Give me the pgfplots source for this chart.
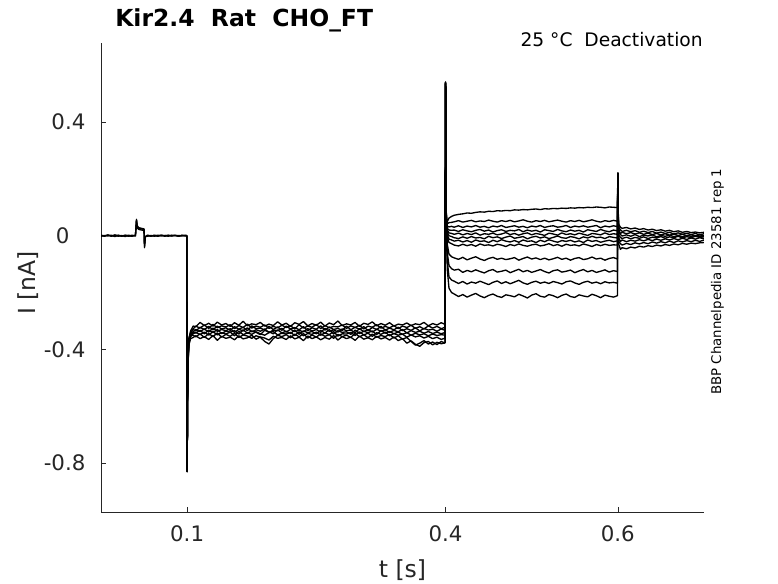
\documentclass[border=0pt]{standalone}
\usepackage{fontspec}
\setmainfont{DejaVu Sans}
\usepackage{pgfplots}
\usepackage{pgfplotstable}
\pgfplotsset{compat=1.18}
\definecolor{axgray}{HTML}{262626}

\pgfplotstableread{
t a b c
0 0.001 -0.002 0.002
0.004 -0.002 0.001 -0.001
0.008 0.002 -0.001 0.003
0.012 -0.001 0.002 -0.002
0.016 0.003 -0.003 0.001
0.020 -0.002 0.001 0.002
0.024 0.001 -0.002 -0.001
0.028 -0.003 0.002 0.001
0.032 0.002 0.000 -0.002
0.036 -0.001 -0.002 0.002
0.040 0.001 0.002 -0.001
0.0412 0.058 0.052 0.055
0.0420 0.032 0.028 0.035
0.0440 0.026 0.022 0.028
0.0470 0.024 0.020 0.026
0.0500 0.022 0.019 0.024
0.0505 -0.038 -0.030 -0.042
0.0515 -0.004 -0.002 -0.005
0.0540 0.001 -0.002 0.002
0.058 -0.002 0.001 -0.001
0.062 0.002 -0.002 0.001
0.066 -0.001 0.002 -0.002
0.070 0.002 -0.001 0.002
0.074 -0.002 0.001 0.000
0.078 0.001 -0.002 0.002
0.082 -0.001 0.002 -0.001
0.086 0.002 0.000 0.001
0.090 -0.002 0.001 -0.002
0.094 0.001 -0.001 0.002
0.098 -0.001 0.002 0.000
0.0995 0.000 0.001 -0.001
}\tabP

\pgfplotstableread{
t a b c d e f g h
0.0995 0.000 0.001 -0.001 0.002 -0.002 0.001 0.000 -0.001
0.1000 -0.830 -0.825 -0.828 -0.831 -0.822 -0.829 -0.826 -0.830
0.1005 -0.560 -0.570 -0.550 -0.580 -0.565 -0.575 -0.555 -0.585
0.1010 -0.430 -0.440 -0.425 -0.450 -0.435 -0.445 -0.438 -0.455
0.1020 -0.365 -0.372 -0.360 -0.380 -0.370 -0.378 -0.375 -0.385
0.1040 -0.335 -0.345 -0.340 -0.350 -0.348 -0.355 -0.352 -0.362
0.1070 -0.318 -0.328 -0.330 -0.338 -0.340 -0.345 -0.350 -0.358
0.1100 -0.320 -0.318 -0.335 -0.330 -0.342 -0.340 -0.356 -0.352
0.1150 -0.305 -0.325 -0.322 -0.337 -0.333 -0.348 -0.345 -0.362
0.1200 -0.316 -0.314 -0.330 -0.328 -0.345 -0.339 -0.358 -0.355
0.1250 -0.308 -0.326 -0.319 -0.339 -0.332 -0.350 -0.344 -0.365
0.1300 -0.318 -0.312 -0.331 -0.325 -0.341 -0.337 -0.355 -0.351
0.1350 -0.304 -0.324 -0.318 -0.336 -0.330 -0.349 -0.342 -0.368
0.1400 -0.314 -0.317 -0.328 -0.330 -0.344 -0.341 -0.357 -0.354
0.1450 -0.309 -0.321 -0.324 -0.334 -0.336 -0.346 -0.347 -0.361
0.1500 -0.319 -0.313 -0.333 -0.327 -0.339 -0.339 -0.354 -0.357
0.1550 -0.306 -0.327 -0.320 -0.340 -0.334 -0.352 -0.343 -0.366
0.1600 -0.315 -0.316 -0.329 -0.329 -0.346 -0.336 -0.358 -0.352
0.1650 -0.301 -0.323 -0.322 -0.335 -0.331 -0.348 -0.349 -0.363
0.1700 -0.317 -0.311 -0.334 -0.324 -0.343 -0.342 -0.353 -0.359
0.1750 -0.310 -0.325 -0.317 -0.338 -0.335 -0.347 -0.361 -0.350
0.1800 -0.313 -0.318 -0.327 -0.331 -0.340 -0.338 -0.352 -0.364
0.1850 -0.305 -0.322 -0.325 -0.336 -0.348 -0.345 -0.357 -0.356
0.1900 -0.318 -0.314 -0.332 -0.328 -0.333 -0.350 -0.372 -0.360
0.1950 -0.311 -0.326 -0.319 -0.341 -0.338 -0.341 -0.381 -0.367
0.2000 -0.316 -0.319 -0.330 -0.332 -0.345 -0.337 -0.362 -0.354
0.2050 -0.303 -0.324 -0.321 -0.334 -0.331 -0.349 -0.350 -0.361
0.2100 -0.314 -0.315 -0.333 -0.326 -0.342 -0.343 -0.355 -0.358
0.2150 -0.308 -0.323 -0.318 -0.339 -0.336 -0.346 -0.348 -0.365
0.2200 -0.319 -0.317 -0.328 -0.329 -0.344 -0.340 -0.359 -0.352
0.2250 -0.306 -0.328 -0.323 -0.337 -0.332 -0.351 -0.346 -0.363
0.2300 -0.312 -0.313 -0.331 -0.333 -0.347 -0.338 -0.356 -0.357
0.2350 -0.302 -0.325 -0.320 -0.338 -0.335 -0.352 -0.344 -0.369
0.2400 -0.317 -0.318 -0.334 -0.327 -0.341 -0.344 -0.360 -0.353
0.2450 -0.309 -0.322 -0.324 -0.335 -0.337 -0.347 -0.349 -0.362
0.2500 -0.315 -0.312 -0.329 -0.330 -0.345 -0.339 -0.357 -0.356
0.2550 -0.304 -0.327 -0.317 -0.340 -0.333 -0.350 -0.345 -0.366
0.2600 -0.318 -0.316 -0.332 -0.326 -0.343 -0.342 -0.354 -0.358
0.2650 -0.307 -0.324 -0.321 -0.336 -0.330 -0.348 -0.348 -0.364
0.2700 -0.313 -0.319 -0.330 -0.331 -0.346 -0.337 -0.361 -0.351
0.2750 -0.300 -0.321 -0.326 -0.339 -0.334 -0.353 -0.347 -0.367
0.2800 -0.316 -0.314 -0.333 -0.328 -0.340 -0.345 -0.355 -0.355
0.2850 -0.310 -0.326 -0.318 -0.334 -0.338 -0.346 -0.350 -0.362
0.2900 -0.314 -0.317 -0.331 -0.332 -0.347 -0.340 -0.358 -0.357
0.2950 -0.305 -0.323 -0.322 -0.341 -0.332 -0.351 -0.343 -0.368
0.3000 -0.319 -0.315 -0.329 -0.327 -0.344 -0.338 -0.356 -0.353
0.3050 -0.308 -0.328 -0.320 -0.337 -0.336 -0.349 -0.348 -0.364
0.3100 -0.312 -0.318 -0.334 -0.330 -0.341 -0.343 -0.359 -0.359
0.3150 -0.303 -0.322 -0.323 -0.339 -0.335 -0.354 -0.346 -0.366
0.3200 -0.317 -0.313 -0.330 -0.329 -0.348 -0.341 -0.357 -0.354
0.3250 -0.309 -0.325 -0.319 -0.336 -0.333 -0.347 -0.351 -0.363
0.3300 -0.315 -0.319 -0.332 -0.331 -0.343 -0.339 -0.355 -0.358
0.3350 -0.306 -0.324 -0.325 -0.340 -0.337 -0.352 -0.347 -0.367
0.3400 -0.318 -0.316 -0.331 -0.333 -0.345 -0.344 -0.360 -0.356
0.3450 -0.311 -0.327 -0.322 -0.338 -0.339 -0.350 -0.352 -0.369
0.3500 -0.314 -0.318 -0.334 -0.330 -0.347 -0.346 -0.364 -0.362
0.3550 -0.307 -0.323 -0.327 -0.342 -0.341 -0.357 -0.358 -0.378
0.3600 -0.316 -0.315 -0.333 -0.334 -0.350 -0.349 -0.372 -0.370
0.3650 -0.310 -0.326 -0.324 -0.340 -0.343 -0.356 -0.385 -0.382
0.3700 -0.313 -0.320 -0.335 -0.336 -0.349 -0.352 -0.378 -0.389
0.3750 -0.305 -0.328 -0.326 -0.343 -0.345 -0.360 -0.369 -0.376
0.3800 -0.317 -0.317 -0.332 -0.337 -0.352 -0.354 -0.381 -0.372
0.3850 -0.309 -0.325 -0.329 -0.344 -0.346 -0.362 -0.374 -0.384
0.3900 -0.314 -0.319 -0.336 -0.339 -0.351 -0.357 -0.383 -0.375
0.3950 -0.306 -0.327 -0.328 -0.345 -0.348 -0.365 -0.372 -0.380
0.3995 -0.312 -0.322 -0.333 -0.340 -0.350 -0.360 -0.378 -0.377
}\tabS

\pgfplotstableread{
t A B C D E F G H I J K L
0.3995 -0.310 -0.322 -0.333 -0.340 -0.350 -0.360 -0.378 -0.377 -0.345 -0.330 -0.365 -0.355
0.4000 0.540 0.538 0.536 0.541 0.535 0.539 0.537 0.534 0.540 0.536 0.538 0.535
0.4005 0.150 0.140 0.145 0.135 0.150 0.142 0.138 0.146 0.132 0.140 0.136 0.130
0.4010 0.060 0.055 0.050 0.048 0.052 0.045 0.047 0.042 0.040 0.038 0.035 0.030
0.4020 0.050 0.042 0.034 0.026 0.020 0.012 0.004 -0.004 -0.030 -0.060 -0.090 -0.120
0.4040 0.062 0.046 0.031 0.020 0.010 0.000 -0.012 -0.024 -0.065 -0.105 -0.145 -0.185
0.4070 0.068 0.047 0.033 0.019 0.008 -0.003 -0.015 -0.028 -0.074 -0.116 -0.156 -0.200
0.4100 0.072 0.049 0.030 0.020 0.005 -0.007 -0.019 -0.033 -0.078 -0.121 -0.160 -0.205
0.415 0.075 0.053 0.035 0.015 0.009 -0.010 -0.016 -0.036 -0.083 -0.118 -0.168 -0.214
0.420 0.077 0.048 0.029 0.021 0.003 -0.004 -0.022 -0.030 -0.076 -0.129 -0.161 -0.207
0.425 0.080 0.051 0.034 0.017 0.008 -0.009 -0.017 -0.035 -0.085 -0.122 -0.170 -0.216
0.430 0.079 0.054 0.031 0.014 0.004 -0.003 -0.023 -0.031 -0.079 -0.127 -0.163 -0.209
0.435 0.082 0.049 0.036 0.019 0.010 -0.008 -0.015 -0.037 -0.074 -0.120 -0.167 -0.203
0.440 0.084 0.052 0.030 0.022 0.002 -0.006 -0.020 -0.029 -0.082 -0.126 -0.160 -0.212
0.445 0.083 0.050 0.033 0.016 0.007 -0.011 -0.018 -0.034 -0.087 -0.131 -0.166 -0.218
0.450 0.086 0.055 0.028 0.020 0.005 -0.002 -0.024 -0.032 -0.080 -0.123 -0.172 -0.210
0.455 0.085 0.051 0.034 0.013 0.009 -0.007 -0.016 -0.036 -0.076 -0.119 -0.164 -0.205
0.460 0.088 0.048 0.031 0.018 0.003 -0.004 -0.021 -0.030 -0.083 -0.128 -0.159 -0.213
0.465 0.087 0.053 0.036 0.021 0.006 -0.010 -0.014 -0.033 -0.079 -0.125 -0.168 -0.217
0.470 0.089 0.050 0.029 0.015 0.011 -0.005 -0.019 -0.038 -0.084 -0.121 -0.162 -0.208
0.475 0.088 0.054 0.032 0.019 0.004 -0.001 -0.022 -0.031 -0.081 -0.130 -0.169 -0.211
0.480 0.091 0.049 0.035 0.017 0.008 -0.009 -0.017 -0.035 -0.077 -0.124 -0.163 -0.215
0.485 0.090 0.052 0.030 0.022 0.002 -0.006 -0.023 -0.029 -0.086 -0.118 -0.157 -0.206
0.490 0.092 0.056 0.033 0.014 0.007 -0.003 -0.015 -0.034 -0.080 -0.127 -0.166 -0.212
0.495 0.091 0.051 0.028 0.020 0.010 -0.011 -0.020 -0.037 -0.075 -0.122 -0.171 -0.219
0.500 0.093 0.048 0.034 0.016 0.003 -0.005 -0.018 -0.032 -0.082 -0.129 -0.164 -0.209
0.505 0.094 0.053 0.031 0.019 0.008 -0.002 -0.024 -0.030 -0.078 -0.124 -0.160 -0.204
0.510 0.092 0.050 0.036 0.013 0.005 -0.008 -0.016 -0.036 -0.084 -0.119 -0.167 -0.213
0.515 0.095 0.054 0.029 0.021 0.001 -0.004 -0.021 -0.033 -0.079 -0.126 -0.163 -0.216
0.520 0.094 0.049 0.033 0.018 0.009 -0.010 -0.014 -0.028 -0.085 -0.131 -0.168 -0.207
0.525 0.096 0.052 0.035 0.015 0.006 -0.006 -0.019 -0.035 -0.081 -0.123 -0.161 -0.211
0.530 0.095 0.055 0.030 0.022 0.002 -0.001 -0.023 -0.031 -0.076 -0.120 -0.165 -0.218
0.535 0.097 0.051 0.032 0.017 0.010 -0.007 -0.017 -0.037 -0.083 -0.128 -0.170 -0.210
0.540 0.096 0.048 0.036 0.014 0.004 -0.009 -0.020 -0.030 -0.079 -0.125 -0.162 -0.205
0.545 0.098 0.053 0.029 0.020 0.007 -0.003 -0.016 -0.034 -0.086 -0.121 -0.159 -0.214
0.550 0.097 0.050 0.034 0.016 0.003 -0.006 -0.022 -0.032 -0.080 -0.130 -0.166 -0.217
0.555 0.099 0.054 0.031 0.019 0.009 -0.011 -0.018 -0.036 -0.077 -0.124 -0.171 -0.208
0.560 0.098 0.049 0.035 0.013 0.005 -0.004 -0.024 -0.029 -0.084 -0.119 -0.164 -0.212
0.565 0.100 0.052 0.030 0.021 0.001 -0.008 -0.015 -0.033 -0.081 -0.127 -0.160 -0.215
0.570 0.099 0.056 0.033 0.018 0.008 -0.002 -0.020 -0.038 -0.075 -0.122 -0.167 -0.206
0.575 0.101 0.051 0.036 0.015 0.006 -0.007 -0.017 -0.031 -0.082 -0.129 -0.163 -0.211
0.580 0.100 0.048 0.028 0.022 0.003 -0.005 -0.023 -0.035 -0.079 -0.125 -0.169 -0.218
0.585 0.098 0.053 0.034 0.017 0.010 -0.010 -0.019 -0.030 -0.086 -0.120 -0.162 -0.209
0.590 0.101 0.050 0.031 0.014 0.004 -0.003 -0.016 -0.034 -0.080 -0.128 -0.166 -0.213
0.595 0.100 0.054 0.035 0.020 0.007 -0.006 -0.021 -0.032 -0.077 -0.123 -0.164 -0.216
0.5995 0.099 0.051 0.032 0.017 0.005 -0.008 -0.018 -0.033 -0.082 -0.126 -0.167 -0.211
0.6000 0.220 0.218 0.221 0.219 0.217 0.220 0.222 0.218 0.216 0.219 0.221 0.217
}\tabT

\pgfplotstableread{
t a b c d e f g h
0.6000 0.220 0.218 0.221 0.219 0.217 0.220 0.222 0.218
0.6005 0.080 0.070 0.065 0.060 0.050 0.045 0.035 0.030
0.6010 0.040 0.030 0.022 0.012 0.002 -0.008 -0.020 -0.030
0.6030 0.030 0.021 0.008 0.004 -0.006 -0.020 -0.028 -0.048
0.6050 0.026 0.015 0.012 -0.001 -0.010 -0.015 -0.033 -0.042
0.6100 0.029 0.019 0.007 0.003 -0.005 -0.021 -0.027 -0.046
0.6150 0.024 0.014 0.011 -0.002 -0.011 -0.016 -0.031 -0.040
0.6200 0.027 0.018 0.006 0.004 -0.006 -0.019 -0.025 -0.043
0.6250 0.022 0.012 0.010 -0.003 -0.009 -0.014 -0.029 -0.037
0.6300 0.025 0.016 0.005 0.002 -0.004 -0.018 -0.024 -0.040
0.6350 0.020 0.011 0.009 -0.001 -0.010 -0.013 -0.028 -0.035
0.6400 0.023 0.015 0.004 0.003 -0.005 -0.017 -0.022 -0.038
0.6450 0.018 0.009 0.008 -0.004 -0.008 -0.012 -0.026 -0.033
0.6500 0.021 0.013 0.003 0.001 -0.003 -0.016 -0.021 -0.036
0.6550 0.016 0.008 0.007 -0.002 -0.009 -0.011 -0.025 -0.031
0.6600 0.019 0.012 0.002 0.002 -0.004 -0.015 -0.019 -0.034
0.6650 0.014 0.006 0.006 -0.003 -0.007 -0.010 -0.024 -0.029
0.6700 0.017 0.010 0.001 0.000 -0.002 -0.014 -0.018 -0.032
0.6750 0.012 0.005 0.005 -0.004 -0.008 -0.009 -0.022 -0.027
0.6800 0.015 0.009 0.000 0.001 -0.003 -0.013 -0.017 -0.030
0.6850 0.011 0.004 0.004 -0.002 -0.007 -0.008 -0.021 -0.026
0.6900 0.013 0.008 -0.001 0.000 -0.002 -0.012 -0.016 -0.028
0.6950 0.010 0.003 0.003 -0.003 -0.006 -0.007 -0.020 -0.025
0.7000 0.012 0.007 0.000 -0.001 -0.004 -0.011 -0.015 -0.024
}\tabU

\begin{document}
\begin{tikzpicture}
\path[use as bounding box] (0,0) rectangle (583.5pt,437.25pt);
\begin{axis}[
  at={(75.75pt,53.25pt)}, anchor=south west,
  scale only axis, width=452.25pt, height=351.75pt,
  xmin=0, xmax=0.7, ymin=-0.972, ymax=0.678,
  axis x line*=bottom, axis y line*=left,
  axis line style={axgray, line width=0.5pt},
  tick align=inside, major tick length=4pt,
  tick style={axgray, line width=0.5pt},
  xtick={0.1,0.4,0.6}, xticklabels={0.1,0.4,0.6},
  ytick={-0.8,-0.4,0,0.4}, yticklabels={-0.8,-0.4,{0\rule{12pt}{0pt}},0.4},
  ticklabel style={font=\fontsize{16}{19}\selectfont, text=axgray},
  xticklabel style={anchor=north, inner sep=0pt, yshift=-10pt},
  yticklabel style={anchor=east, inner sep=0pt, xshift=-11.5pt},
  clip=true,
  trace/.style={black, line width=1pt, line join=round, mark=none},
]
\pgfplotsinvokeforeach{a,b,c}{\addplot[trace] table[x=t,y=#1]{\tabP};}
\pgfplotsinvokeforeach{a,b,c,d,e,f,g,h}{\addplot[trace] table[x=t,y=#1]{\tabS};}
\pgfplotsinvokeforeach{A,B,C,D,E,F,G,H,I,J,K,L}{\addplot[trace] table[x=t,y=#1]{\tabT};}
\pgfplotsinvokeforeach{a,b,c,d,e,f,g,h}{\addplot[trace] table[x=t,y=#1]{\tabU};}
\end{axis}
\node[anchor=base west, inner sep=0pt, font=\bfseries\fontsize{17.6}{20}\selectfont] at (86.25pt,417pt) {Kir2.4\ \ Rat\ \ CHO\_FT};
\node[anchor=base east, inner sep=0pt, font=\fontsize{14}{16}\selectfont, text=black] at (527.25pt,402pt) {25 °C\ \ Deactivation};
\node[anchor=base west, inner sep=0pt, rotate=90, font=\fontsize{10}{12}\selectfont] at (540.75pt,141pt) {BBP Channelpedia ID 23581 rep 1};
\node[anchor=base, inner sep=0pt, font=\fontsize{17.6}{20}\selectfont, text=axgray] at (301.9pt,4.5pt) {t [s]};
\node[anchor=base, inner sep=0pt, rotate=90, font=\fontsize{17.6}{20}\selectfont, text=axgray] at (27pt,225pt) {I [nA]};
\end{tikzpicture}
\end{document}
